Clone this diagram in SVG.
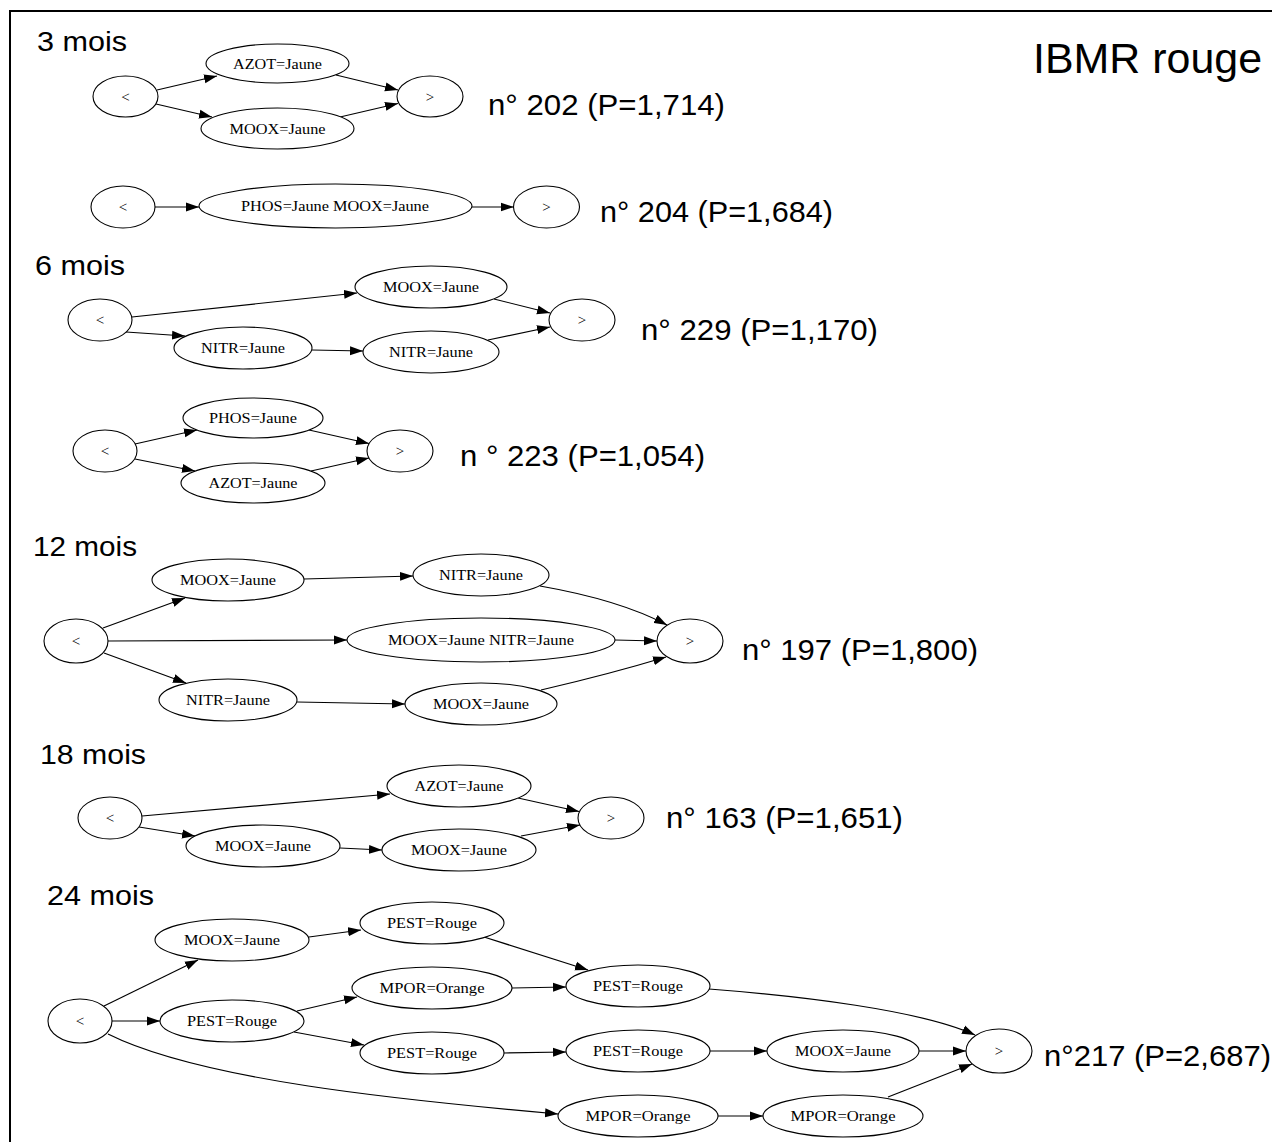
<svg xmlns="http://www.w3.org/2000/svg" width="1272" height="1142" viewBox="0 0 1272 1142">
<defs>
<marker id="ah" markerUnits="userSpaceOnUse" markerWidth="13" markerHeight="10" refX="13" refY="5" orient="auto">
<path d="M0,0.5 L13,5 L0,9.5 z" fill="#000"/>
</marker>
<style>
.n ellipse{fill:#fff;stroke:#000;stroke-width:1.1}
.n text{font-family:"Liberation Serif","Times New Roman",serif;font-size:15px;text-anchor:middle;fill:#000}
.e path{fill:none;stroke:#000;stroke-width:1.2;marker-end:url(#ah)}
.t{font-family:"Liberation Sans",Arial,sans-serif;fill:#000}
.h{font-size:28px}
.p{font-size:30px}
</style>
</defs>
<rect width="1272" height="1142" fill="#fff"/>
<path d="M10,1142 V11 H1272" fill="none" stroke="#000" stroke-width="2"/>

<g id="labels">
<text class="t h" x="37" y="51" textLength="90" lengthAdjust="spacingAndGlyphs">3 mois</text>
<text class="t h" x="35" y="275" textLength="90" lengthAdjust="spacingAndGlyphs">6 mois</text>
<text class="t h" x="33" y="556" textLength="104" lengthAdjust="spacingAndGlyphs">12 mois</text>
<text class="t h" x="40" y="764" textLength="106" lengthAdjust="spacingAndGlyphs">18 mois</text>
<text class="t h" x="47" y="905" textLength="107" lengthAdjust="spacingAndGlyphs">24 mois</text>
<text class="t" x="1033" y="73" font-size="42" textLength="229" lengthAdjust="spacingAndGlyphs">IBMR rouge</text>
<text class="t p" x="488" y="115" textLength="237" lengthAdjust="spacingAndGlyphs">n° 202 (P=1,714)</text>
<text class="t p" x="600" y="222" textLength="233" lengthAdjust="spacingAndGlyphs">n° 204 (P=1,684)</text>
<text class="t p" x="641" y="340" textLength="237" lengthAdjust="spacingAndGlyphs">n° 229 (P=1,170)</text>
<text class="t p" x="460" y="466" textLength="245" lengthAdjust="spacingAndGlyphs">n ° 223 (P=1,054)</text>
<text class="t p" x="742" y="660" textLength="236" lengthAdjust="spacingAndGlyphs">n° 197 (P=1,800)</text>
<text class="t p" x="666" y="828" textLength="237" lengthAdjust="spacingAndGlyphs">n° 163 (P=1,651)</text>
<text class="t p" x="1044" y="1066" textLength="227" lengthAdjust="spacingAndGlyphs">n°217 (P=2,687)</text>
</g>

<g id="connectors" class="e">
<path d="M157,90 L217,76"/>
<path d="M156,104 L212,117"/>
<path d="M336,75 L398,90"/>
<path d="M340,117 L398,103.5"/>
<path d="M155,207 L199,207"/>
<path d="M472,207 L513.5,207"/>
<path d="M132,317 L357,293"/>
<path d="M126,332 L185,336"/>
<path d="M312,350 L363,351"/>
<path d="M494,299 L550,313"/>
<path d="M488,340 L550,327"/>
<path d="M135,444 L197,430"/>
<path d="M135,459 L195,471"/>
<path d="M309,430 L369,443.5"/>
<path d="M311,471 L369,458"/>
<path d="M103,628 L185,598"/>
<path d="M304,579 L413,576"/>
<path d="M540,586 Q620,600 667,625"/>
<path d="M108,641 L347,640"/>
<path d="M615,640 L657,641"/>
<path d="M104,653 L186,683"/>
<path d="M297,702 L405,704"/>
<path d="M541,690 Q610,674 666,657"/>
<path d="M142,816 L390,794"/>
<path d="M139,827 L195,836"/>
<path d="M340,848 L382,850"/>
<path d="M518,798 L579,811.5"/>
<path d="M521,836 L580,825"/>
<path d="M104,1006 L198,960"/>
<path d="M112,1021 L160,1021"/>
<path d="M108,1034 C200,1080 400,1100 558,1114"/>
<path d="M309,937 L361,930"/>
<path d="M484,937 L588,970"/>
<path d="M297,1011 L357,997"/>
<path d="M294,1032 L364,1045"/>
<path d="M512,988 L566,987"/>
<path d="M504,1053 L566,1052"/>
<path d="M709,989 C800,996 920,1010 975,1035"/>
<path d="M710,1051 L767,1051"/>
<path d="M919,1051 L966,1051"/>
<path d="M718,1116 L763,1116"/>
<path d="M888,1097 L972,1064"/>
</g>

<g id="g1_start" class="n"><ellipse cx="125.5" cy="96.5" rx="32.5" ry="20.5"/><text x="125.5" y="101.5">&lt;</text></g>
<g id="g1_azot" class="n"><ellipse cx="277.5" cy="63.5" rx="71.5" ry="19.5"/><text x="277.5" y="68.5" textLength="89" lengthAdjust="spacingAndGlyphs">AZOT=Jaune</text></g>
<g id="g1_moox" class="n"><ellipse cx="277.5" cy="128.5" rx="76.5" ry="20.5"/><text x="277.5" y="133.5" textLength="96" lengthAdjust="spacingAndGlyphs">MOOX=Jaune</text></g>
<g id="g1_end" class="n"><ellipse cx="430" cy="96.5" rx="33" ry="20.5"/><text x="430" y="101.5">&gt;</text></g>

<g id="g2_start" class="n"><ellipse cx="123" cy="207" rx="32" ry="21"/><text x="123" y="212">&lt;</text></g>
<g id="g2_phosmoox" class="n"><ellipse cx="335.5" cy="206" rx="136.5" ry="22"/><text x="335" y="211" textLength="188" lengthAdjust="spacingAndGlyphs">PHOS=Jaune MOOX=Jaune</text></g>
<g id="g2_end" class="n"><ellipse cx="546.5" cy="207" rx="33" ry="21"/><text x="546.5" y="212">&gt;</text></g>

<g id="g3_start" class="n"><ellipse cx="100" cy="320" rx="32" ry="21"/><text x="100" y="325">&lt;</text></g>
<g id="g3_moox" class="n"><ellipse cx="431" cy="287" rx="76" ry="21"/><text x="431" y="292" textLength="96" lengthAdjust="spacingAndGlyphs">MOOX=Jaune</text></g>
<g id="g3_nitr1" class="n"><ellipse cx="243" cy="348" rx="69" ry="21"/><text x="243" y="353" textLength="84" lengthAdjust="spacingAndGlyphs">NITR=Jaune</text></g>
<g id="g3_nitr2" class="n"><ellipse cx="431" cy="352" rx="68" ry="21"/><text x="431" y="357" textLength="84" lengthAdjust="spacingAndGlyphs">NITR=Jaune</text></g>
<g id="g3_end" class="n"><ellipse cx="582" cy="320" rx="33" ry="21"/><text x="582" y="325">&gt;</text></g>

<g id="g4_start" class="n"><ellipse cx="105" cy="451" rx="32" ry="21"/><text x="105" y="456">&lt;</text></g>
<g id="g4_phos" class="n"><ellipse cx="253" cy="418" rx="70" ry="20"/><text x="253" y="423" textLength="88" lengthAdjust="spacingAndGlyphs">PHOS=Jaune</text></g>
<g id="g4_azot" class="n"><ellipse cx="253" cy="483" rx="72" ry="20"/><text x="253" y="488" textLength="89" lengthAdjust="spacingAndGlyphs">AZOT=Jaune</text></g>
<g id="g4_end" class="n"><ellipse cx="400" cy="451" rx="33" ry="21"/><text x="400" y="456">&gt;</text></g>

<g id="g5_start" class="n"><ellipse cx="76" cy="641" rx="32" ry="22"/><text x="76" y="646">&lt;</text></g>
<g id="g5_moox1" class="n"><ellipse cx="228" cy="580" rx="76" ry="21"/><text x="228" y="585" textLength="96" lengthAdjust="spacingAndGlyphs">MOOX=Jaune</text></g>
<g id="g5_nitr1" class="n"><ellipse cx="481" cy="575" rx="68" ry="21"/><text x="481" y="580" textLength="84" lengthAdjust="spacingAndGlyphs">NITR=Jaune</text></g>
<g id="g5_mooxnitr" class="n"><ellipse cx="481" cy="640" rx="134" ry="22"/><text x="481" y="645" textLength="186" lengthAdjust="spacingAndGlyphs">MOOX=Jaune NITR=Jaune</text></g>
<g id="g5_nitr2" class="n"><ellipse cx="228" cy="700" rx="69" ry="21"/><text x="228" y="705" textLength="84" lengthAdjust="spacingAndGlyphs">NITR=Jaune</text></g>
<g id="g5_moox2" class="n"><ellipse cx="481" cy="704" rx="76" ry="21"/><text x="481" y="709" textLength="96" lengthAdjust="spacingAndGlyphs">MOOX=Jaune</text></g>
<g id="g5_end" class="n"><ellipse cx="690" cy="641" rx="33" ry="22"/><text x="690" y="646">&gt;</text></g>

<g id="g6_start" class="n"><ellipse cx="110" cy="818" rx="32" ry="21"/><text x="110" y="823">&lt;</text></g>
<g id="g6_azot" class="n"><ellipse cx="459" cy="786" rx="72" ry="21"/><text x="459" y="791" textLength="89" lengthAdjust="spacingAndGlyphs">AZOT=Jaune</text></g>
<g id="g6_moox1" class="n"><ellipse cx="263" cy="846" rx="77" ry="21"/><text x="263" y="851" textLength="96" lengthAdjust="spacingAndGlyphs">MOOX=Jaune</text></g>
<g id="g6_moox2" class="n"><ellipse cx="459" cy="850" rx="77" ry="21"/><text x="459" y="855" textLength="96" lengthAdjust="spacingAndGlyphs">MOOX=Jaune</text></g>
<g id="g6_end" class="n"><ellipse cx="611" cy="818" rx="33" ry="21"/><text x="611" y="823">&gt;</text></g>

<g id="g7_start" class="n"><ellipse cx="80" cy="1021" rx="32" ry="22"/><text x="80" y="1026">&lt;</text></g>
<g id="g7_moox1" class="n"><ellipse cx="232" cy="940" rx="77" ry="21"/><text x="232" y="945" textLength="96" lengthAdjust="spacingAndGlyphs">MOOX=Jaune</text></g>
<g id="g7_pest1" class="n"><ellipse cx="232" cy="1021" rx="72" ry="21"/><text x="232" y="1026" textLength="90" lengthAdjust="spacingAndGlyphs">PEST=Rouge</text></g>
<g id="g7_pest2" class="n"><ellipse cx="432" cy="923" rx="72" ry="21"/><text x="432" y="928" textLength="90" lengthAdjust="spacingAndGlyphs">PEST=Rouge</text></g>
<g id="g7_mpor1" class="n"><ellipse cx="432" cy="988" rx="80" ry="21"/><text x="432" y="993" textLength="105" lengthAdjust="spacingAndGlyphs">MPOR=Orange</text></g>
<g id="g7_pest3" class="n"><ellipse cx="432" cy="1053" rx="72" ry="21"/><text x="432" y="1058" textLength="90" lengthAdjust="spacingAndGlyphs">PEST=Rouge</text></g>
<g id="g7_pest4" class="n"><ellipse cx="638" cy="986" rx="72" ry="21"/><text x="638" y="991" textLength="90" lengthAdjust="spacingAndGlyphs">PEST=Rouge</text></g>
<g id="g7_pest5" class="n"><ellipse cx="638" cy="1051" rx="72" ry="21"/><text x="638" y="1056" textLength="90" lengthAdjust="spacingAndGlyphs">PEST=Rouge</text></g>
<g id="g7_mpor2" class="n"><ellipse cx="638" cy="1116" rx="80" ry="21"/><text x="638" y="1121" textLength="105" lengthAdjust="spacingAndGlyphs">MPOR=Orange</text></g>
<g id="g7_moox2" class="n"><ellipse cx="843" cy="1051" rx="76" ry="21"/><text x="843" y="1056" textLength="96" lengthAdjust="spacingAndGlyphs">MOOX=Jaune</text></g>
<g id="g7_mpor3" class="n"><ellipse cx="843" cy="1116" rx="80" ry="21"/><text x="843" y="1121" textLength="105" lengthAdjust="spacingAndGlyphs">MPOR=Orange</text></g>
<g id="g7_end" class="n"><ellipse cx="999" cy="1051" rx="33" ry="22"/><text x="999" y="1056">&gt;</text></g>
</svg>
